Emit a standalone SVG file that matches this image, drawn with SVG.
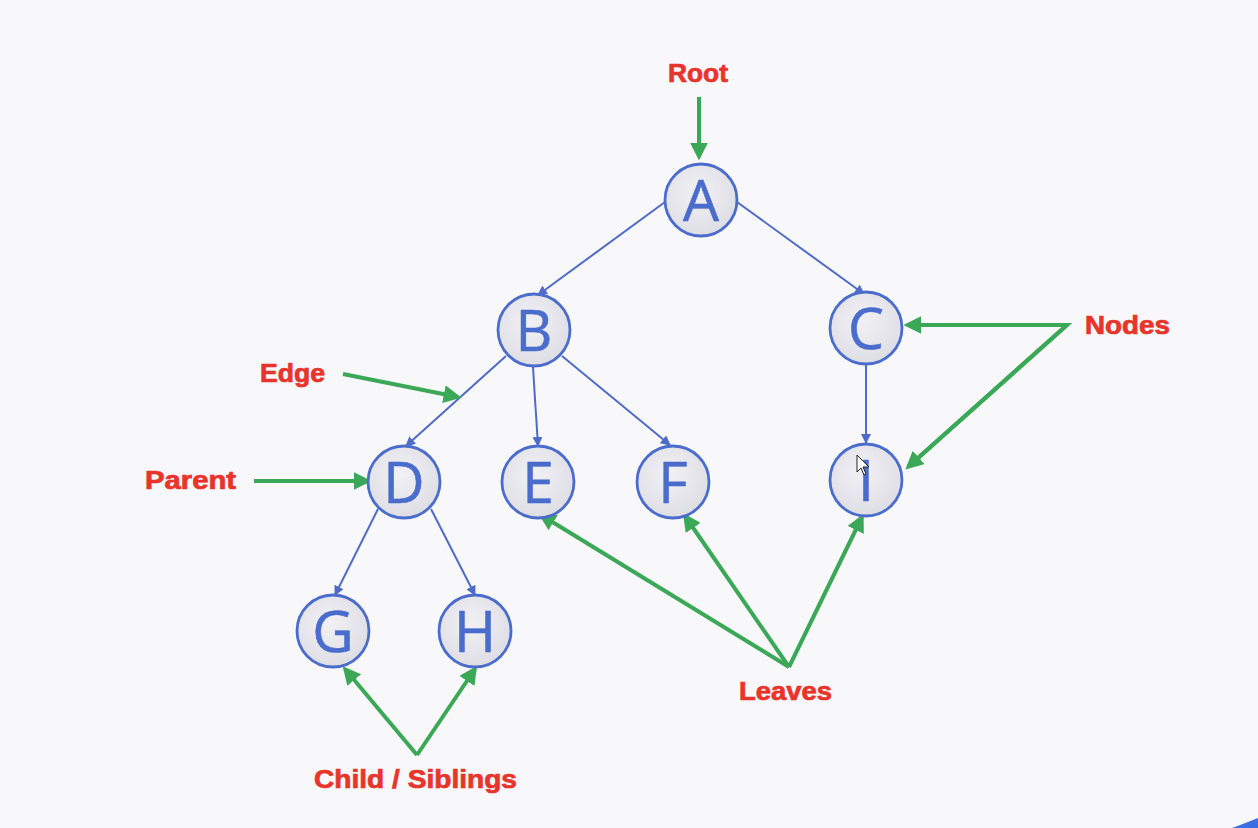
<svg xmlns="http://www.w3.org/2000/svg" width="1258" height="828" viewBox="0 0 1258 828">
<style>
.node circle{fill:url(#nodeFill);stroke:#4a6ccc;stroke-width:2.8}
.node text{font-family:"Open Sans","DejaVu Sans",sans-serif;font-size:57px;fill:#4a6ccc;text-anchor:middle;stroke:#4a6ccc;stroke-width:0.6}
.edge{stroke:#4f6bc9;stroke-width:2;fill:none;marker-end:url(#blueHead)}
.ptr{stroke:#3aa856;stroke-width:4;fill:none;stroke-linecap:round}
.ptrh{stroke:#3aa856;stroke-width:4;fill:none;marker-end:url(#greenHead)}
.lbl{font-family:"Liberation Sans",Arial,sans-serif;font-weight:bold;font-size:26px;fill:#e8342a;stroke:#e8342a;stroke-width:0.7}
</style>
<defs>
<radialGradient id="nodeFill" cx="0.45" cy="0.4" r="0.65">
<stop offset="0" stop-color="#f1f1f5"/>
<stop offset="1" stop-color="#dcdce3"/>
</radialGradient>
<marker id="blueHead" viewBox="0 0 10 10" refX="9" refY="5" markerWidth="5" markerHeight="5" orient="auto" markerUnits="strokeWidth">
<path d="M0,0 L10,5 L0,10 z" fill="#4f6bc9"/>
</marker>
<marker id="greenHead" viewBox="0 0 10 10" refX="8" refY="5" markerWidth="4.5" markerHeight="4.5" orient="auto" markerUnits="strokeWidth">
<path d="M0,0 L10,5 L0,10 z" fill="#3aa856"/>
</marker>
</defs>
<rect x="0" y="0" width="1258" height="828" fill="#f8f7fa"/>
<path d="M1232,828 Q1246,823 1258,818 L1258,828 Z" fill="#3a6fe3"/>

<g id="connectors">
<line class="edge" x1="665" y1="202" x2="538" y2="295"/>
<line class="edge" x1="737" y1="202" x2="864" y2="294"/>
<line class="edge" x1="506" y1="356" x2="406" y2="446"/>
<line class="edge" x1="533" y1="367" x2="538" y2="446"/>
<line class="edge" x1="562" y1="356" x2="670" y2="445"/>
<line class="edge" x1="866" y1="364" x2="866" y2="443"/>
<line class="edge" x1="378" y1="509" x2="335" y2="595"/>
<line class="edge" x1="431" y1="509" x2="475" y2="595"/>
</g>

<g id="pointers">
<line class="ptrh" x1="699" y1="97" x2="699" y2="157"/>
<line class="ptrh" x1="343" y1="374" x2="458" y2="397"/>
<line class="ptrh" x1="254" y1="481" x2="368" y2="481"/>
<polyline class="ptr" points="920,325 1067,325 918,458" stroke-linejoin="miter"/>
<line class="ptrh" x1="1067" y1="325" x2="907" y2="325"/>
<line class="ptrh" x1="1067" y1="325" x2="908" y2="467"/>
<line class="ptrh" x1="789" y1="667" x2="541" y2="515"/>
<line class="ptrh" x1="789" y1="667" x2="685" y2="516"/>
<line class="ptrh" x1="789" y1="667" x2="862" y2="517"/>
<line class="ptrh" x1="417" y1="755" x2="345" y2="669"/>
<line class="ptrh" x1="417" y1="755" x2="475" y2="669"/>
</g>

<g id="node-A" class="node"><circle cx="701" cy="200" r="36"/><text x="701" y="221">A</text></g>
<g id="node-B" class="node"><circle cx="534" cy="330" r="36"/><text x="534" y="351">B</text></g>
<g id="node-C" class="node"><circle cx="866" cy="328" r="36"/><text x="866" y="349">C</text></g>
<g id="node-D" class="node"><circle cx="404" cy="482" r="36"/><text x="404" y="503">D</text></g>
<g id="node-E" class="node"><circle cx="538" cy="482" r="36"/><text x="538" y="503">E</text></g>
<g id="node-F" class="node"><circle cx="673" cy="482" r="36"/><text x="673" y="503">F</text></g>
<g id="node-I" class="node"><circle cx="866" cy="480" r="36"/><text x="866" y="501">I</text></g>
<g id="node-G" class="node"><circle cx="333" cy="631" r="36"/><text x="333" y="652">G</text></g>
<g id="node-H" class="node"><circle cx="475" cy="631" r="36"/><text x="475" y="652">H</text></g>

<path d="M857,455 L857,472 L861,468 L864,475 L866,474 L863,467 L869,467 Z" fill="#ffffff" stroke="#222" stroke-width="1"/>

<g id="labels">
<text class="lbl" x="668" y="82" textLength="60" lengthAdjust="spacingAndGlyphs">Root</text>
<text class="lbl" x="260" y="382" textLength="65" lengthAdjust="spacingAndGlyphs">Edge</text>
<text class="lbl" x="145" y="489" textLength="91" lengthAdjust="spacingAndGlyphs">Parent</text>
<text class="lbl" x="1085" y="334" textLength="85" lengthAdjust="spacingAndGlyphs">Nodes</text>
<text class="lbl" x="739" y="700" textLength="93" lengthAdjust="spacingAndGlyphs">Leaves</text>
<text class="lbl" x="314" y="788" textLength="203" lengthAdjust="spacingAndGlyphs">Child / Siblings</text>
</g>
</svg>
